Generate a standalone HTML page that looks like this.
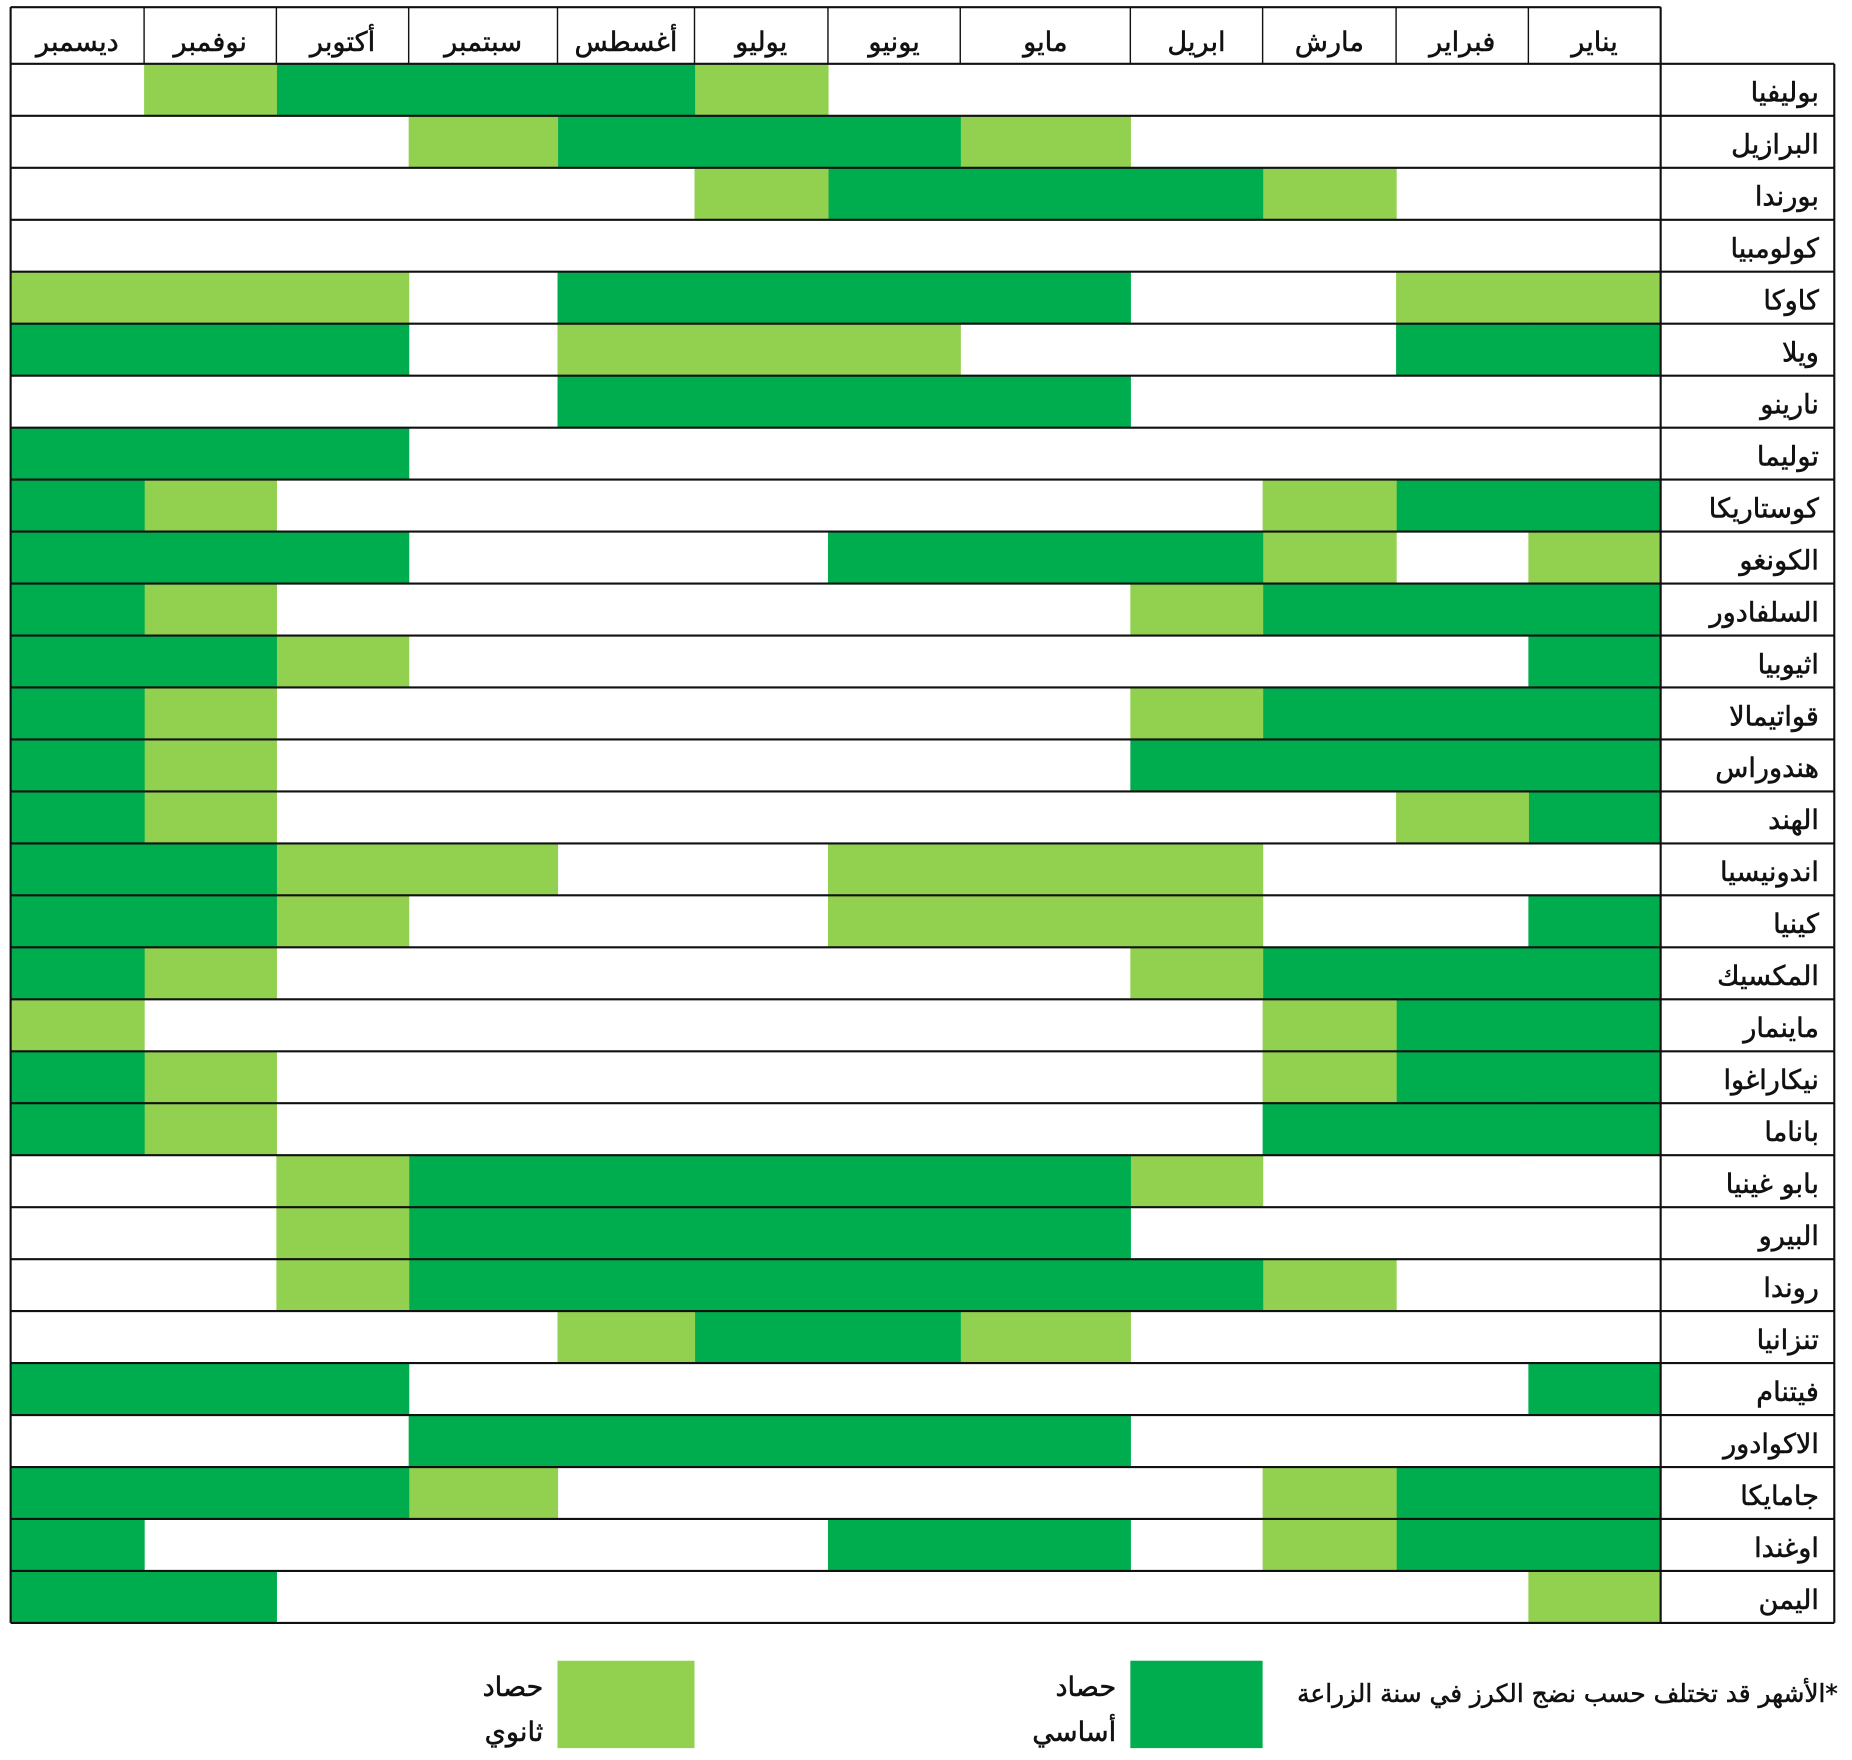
<!DOCTYPE html>
<html><head><meta charset="utf-8"><style>
html,body{margin:0;padding:0;background:#fff;}
svg{display:block;}
text{font-family:"DejaVu Sans","Noto Sans CJK SC",sans-serif;fill:#111;stroke:#111;stroke-width:0.45;}
</style></head><body>
<svg id="s" xmlns="http://www.w3.org/2000/svg" width="1852" height="1760" viewBox="0 0 1568 1490"></svg>
<script>
const D="#00ad4e",L="#92d050";
const cols=[[1294,1406],[1182,1294],[1069,1182],[957,1069],[813,957],[701,813],[588,701],[472,588],[346,472],[234,346],[122,234],[9,122]];
const months=["يناير","فبراير","مارش","ابريل","مايو","يونيو","يوليو","أغسطس","سبتمبر","أكتوبر","نوفمبر","ديسمبر"];
const rows=[
["بوليفيا","000000211120"],
["البرازيل","000021112000"],
["بورندا","002111200000"],
["كولومبيا","000000000000"],
["كاوكا","220011110222"],
["ويلا","110002220111"],
["نارينو","000011110000"],
["توليما","000000000111"],
["كوستاريكا","112000000021"],
["الكونغو","202111000111"],
["السلفادور","111200000021"],
["اثيوبيا","100000000211"],
["قواتيمالا","111200000021"],
["هندوراس","111100000021"],
["الهند","120000000021"],
["اندونيسيا","000222002211"],
["كينيا","100222000211"],
["المكسيك","111200000021"],
["ماينمار","112000000002"],
["نيكاراغوا","112000000021"],
["باناما","111000000021"],
["بابو غينيا","000211111200"],
["البيرو","000011111200"],
["روندا","002111111200"],
["تنزانيا","000021120000"],
["فيتنام","100000000111"],
["الاكوادور","000011111000"],
["جامايكا","112000002111"],
["اوغندا","112011000001"],
["اليمن","200000000011"]];
let h='';
const sw=1.8;
months.forEach((m,i)=>{const c=cols[i];h+=`<text x="${(c[0]+c[1])/2}" y="43" font-size="23" text-anchor="middle">${m}</text>`;
h+=`<line x1="${c[0]}" y1="6" x2="${c[0]}" y2="54" stroke="#111" stroke-width="1.2"/>`;});
h+=`<line x1="9" y1="6" x2="1406" y2="6" stroke="#111" stroke-width="${sw}"/>`;
rows.forEach((r,k)=>{const y=54+k*44;
 for(let i=0;i<12;i++){const v=r[1][i];if(v!=='0'){const c=cols[i];h+=`<rect x="${c[0]}" y="${y}" width="${c[1]-c[0]+0.5}" height="44" fill="${v==='1'?D:L}"/>`;}}
 h+=`<text x="1540" y="${y+32}" font-size="23" text-anchor="end">${r[0]}</text>`;
});
for(let k=0;k<=30;k++){const y=54+k*44;h+=`<line x1="9" y1="${y}" x2="1553" y2="${y}" stroke="#111" stroke-width="${sw}"/>`;}
h+=`<line x1="9" y1="6" x2="9" y2="1374" stroke="#111" stroke-width="${sw}"/>`;
h+=`<line x1="1406" y1="6" x2="1406" y2="1374" stroke="#111" stroke-width="${sw}"/>`;
h+=`<line x1="1553" y1="54" x2="1553" y2="1374" stroke="#111" stroke-width="${sw}"/>`;
h+=`<rect x="957" y="1406" width="112" height="74" fill="${D}"/>`;
h+=`<rect x="472" y="1406" width="116" height="74" fill="${L}"/>`;
h+=`<text x="945" y="1436" font-size="23" text-anchor="end">حصاد</text>`;
h+=`<text x="945" y="1474" font-size="23" text-anchor="end">أساسي</text>`;
h+=`<text x="460" y="1436" font-size="23" text-anchor="end">حصاد</text>`;
h+=`<text x="460" y="1474" font-size="23" text-anchor="end">ثانوي</text>`;
h+=`<text x="1556" y="1441" font-size="21" text-anchor="end">\u200F*الأشهر قد تختلف حسب نضج الكرز في سنة الزراعة</text>`;
document.getElementById('s').innerHTML=h;
</script>
</body></html>
